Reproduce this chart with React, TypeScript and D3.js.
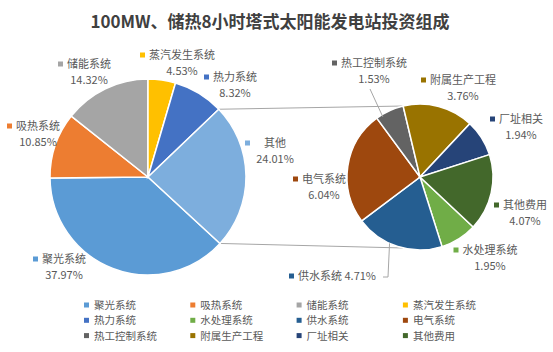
import React from 'react';
import * as d3 from 'd3';

// main pie (legend order), "其他" is split into the secondary pie
const mainNames = ['聚光系统', '吸热系统', '储能系统', '蒸汽发生系统', '热力系统', '其他'];
const mainValues = [37.97, 10.85, 14.32, 4.53, 8.32, 24.01];
const mainColors = ['#5B9BD5', '#ED7D31', '#A5A5A5', '#FFC000', '#4472C4', '#7DAEDD'];

const subNames = ['水处理系统', '供水系统', '电气系统', '热工控制系统', '附属生产工程', '厂址相关', '其他费用'];
const subValues = [1.95, 4.71, 6.04, 1.53, 3.76, 1.94, 4.07];
const subColors = ['#70AD47', '#255E91', '#9E480E', '#636363', '#997300', '#264478', '#43682B'];

const legendNames = [...mainNames.slice(0, 5), ...subNames];
const legendColors = [...mainColors.slice(0, 5), ...subColors];

const title = '100MW、储热8小时塔式太阳能发电站投资组成';

const W = 553;
const H = 352;
const FONT = '"Noto Sans CJK SC", "Noto Sans", sans-serif';
const TEXT = '#595959';

// label placement: centre x of the text, y of the first line
const labelLayout: Record<string, { x: number; y: number; inline?: boolean }> = {
  '聚光系统': { x: 64, y: 259 },
  '吸热系统': { x: 38, y: 126 },
  '储能系统': { x: 89, y: 64 },
  '蒸汽发生系统': { x: 182, y: 55 },
  '热力系统': { x: 235, y: 77 },
  '其他': { x: 275, y: 143 },
  '热工控制系统': { x: 374, y: 63 },
  '附属生产工程': { x: 463, y: 80 },
  '厂址相关': { x: 521, y: 119 },
  '其他费用': { x: 525, y: 205 },
  '水处理系统': { x: 490, y: 250 },
  '供水系统': { x: 337, y: 276, inline: true },
  '电气系统': { x: 324, y: 179 },
};

const deg = Math.PI / 180;
const lineGap = 16;

const Label: React.FC<{ name: string; value: number; color: string }> = ({ name, value, color }) => {
  const l = labelLayout[name];
  const pct = value.toFixed(2) + '%';
  const nameW = name.length * 11;
  if (l.inline) {
    const full = name + ' ' + pct;
    const w = nameW + 3 + pct.length * 6.2;
    return (
      <g>
        <rect x={l.x - w / 2 - 9} y={l.y - 2.5} width={5} height={5} fill={color} />
        <text x={l.x} y={l.y + 4} textAnchor="middle">{full}</text>
      </g>
    );
  }
  const markerX = name === '其他' ? l.x - nameW / 2 - 19 : l.x - nameW / 2 - 9;
  return (
    <g>
      <rect x={markerX} y={l.y - 2.5} width={5} height={5} fill={color} />
      <text x={l.x} y={l.y + 4} textAnchor="middle">{name}</text>
      <text x={l.x} y={l.y + 4 + lineGap} textAnchor="middle">{pct}</text>
    </g>
  );
};

export default function App() {
  const c1 = { x: 148, y: 177 };
  const r1 = 98;
  const c2 = { x: 420, y: 177 };
  const r2 = 73;

  const pieMain = d3.pie<number>().sort(null).startAngle(132.7 * deg).endAngle(132.7 * deg + 2 * Math.PI);
  const pieSub = d3.pie<number>().sort(null).startAngle(133.2 * deg).endAngle(133.2 * deg + 2 * Math.PI);
  const arcMain = d3.arc<d3.PieArcDatum<number>>().innerRadius(0).outerRadius(r1);
  const arcSub = d3.arc<d3.PieArcDatum<number>>().innerRadius(0).outerRadius(r2);

  const mainArcs = pieMain(mainValues);
  const subArcs = pieSub(subValues);

  const other = mainArcs[mainArcs.length - 1];
  const pt = (c: { x: number; y: number }, r: number, a: number) => [c.x + r * Math.sin(a), c.y - r * Math.cos(a)];
  const a0 = pt(c1, r1, other.startAngle);
  const a1 = pt(c1, r1, other.endAngle);
  const b0 = pt(c2, r2, -13.5 * deg);
  const b1 = pt(c2, r2, 193.5 * deg);

  // leader lines for the two labels that sit away from their slice
  const hk = subArcs[3];
  const hkPt = pt(c2, r2 * 0.97, (hk.startAngle + hk.endAngle) / 2 - 0.12);
  const gs = subArcs[1];
  const gsPt = pt(c2, r2, (gs.startAngle + gs.endAngle) / 2 + 0.12);

  const colW = 106.3;
  const rowH = 15.3;
  const legendTop = 305;
  return (
    <svg width={W} height={H} style={{ position: 'absolute', left: 0, top: 0, background: '#fff' }} fontFamily={FONT}>
      <rect width={W} height={H} fill="#fff" />
      <text x={270} y={20} textAnchor="middle" dominantBaseline="central" fontSize={17} fontWeight="bold" fill="#404040">
        {title}
      </text>

      <line x1={a0[0]} y1={a0[1]} x2={b0[0]} y2={b0[1]} stroke="#A6A6A6" strokeWidth={1} />
      <line x1={a1[0]} y1={a1[1]} x2={b1[0]} y2={b1[1]} stroke="#A6A6A6" strokeWidth={1} />

      {mainArcs.map((a, i) => (
        <path key={i} d={arcMain(a) || ''} transform={`translate(${c1.x},${c1.y})`} fill={mainColors[i]} stroke="#fff" strokeWidth={1.5} />
      ))}
      {subArcs.map((a, i) => (
        <path key={i} d={arcSub(a) || ''} transform={`translate(${c2.x},${c2.y})`} fill={subColors[i]} stroke="#fff" strokeWidth={1.5} />
      ))}

      <line x1={370} y1={89} x2={hkPt[0]} y2={hkPt[1]} stroke="#A6A6A6" strokeWidth={1} />
      <polyline points={`383,277 388,277 ${gsPt[0]},${gsPt[1]}`} fill="none" stroke="#A6A6A6" strokeWidth={1} />

      <g fontSize={11} fill={TEXT}>
        {mainNames.map((n, i) => <Label key={n} name={n} value={mainValues[i]} color={mainColors[i]} />)}
        {subNames.map((n, i) => <Label key={n} name={n} value={subValues[i]} color={subColors[i]} />)}
      </g>

      <g fontSize={10.5} fill={TEXT}>
        {legendNames.map((n, i) => {
          const x = 84 + (i % 4) * colW;
          const y = legendTop + Math.floor(i / 4) * rowH;
          return (
            <g key={n}>
              <rect x={x} y={y - 2.5} width={5} height={5} fill={legendColors[i]} />
              <text x={x + 10} y={y + 4}>{n}</text>
            </g>
          );
        })}
      </g>
    </svg>
  );
}
